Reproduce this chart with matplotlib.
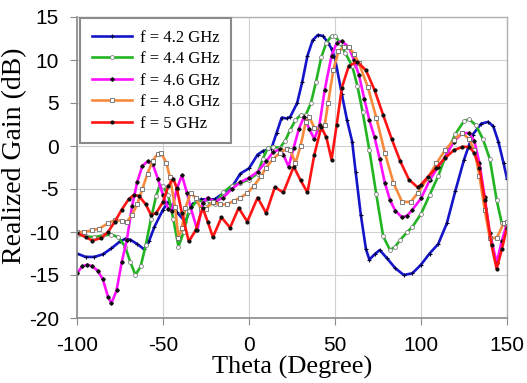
import numpy as np
import matplotlib
matplotlib.use("Agg")
import matplotlib.pyplot as plt

plt.rcParams['axes.unicode_minus'] = False

# Realized gain (dB) vs theta (deg)
theta_42 = [-100, -95, -90, -85, -80, -75, -72, -69, -65, -61, -58, -55, -50, -47, -42, -37, -33, -28,
            -20, -15, -10, -5, 0, 5, 8, 13, 16, 19, 22, 24, 28, 31, 34, 37, 40, 43, 46, 48, 50, 54,
            57, 60, 62, 65, 68, 70, 73, 76, 80, 85, 90, 95, 100, 105, 110, 115, 120, 125, 130, 135,
            139, 142, 145, 148, 150]
gain_42 = [-12.5, -12.9, -12.9, -12.6, -11.9, -11.1, -10.8, -10.9, -11.4, -12.0, -11.0, -9.4, -7.4, -6.5,
           -7.7, -8.8, -6.8, -6.2, -6.2, -5.5, -4.8, -3.2, -2.6, -1.0, -0.6, -0.3, 1.5, 3.3, 3.2, 3.4,
           5.0, 7.5, 10.5, 12.3, 12.9, 12.8, 12.0, 11.3, 10.2, 6.0, 3.0, 0.5, -3.0, -8.0, -12.0, -13.2,
           -12.6, -12.1, -13.0, -14.2, -15.0, -14.8, -13.8, -12.5, -11.4, -9.0, -5.2, -1.6, 1.3, 2.6,
           2.8, 2.3, 0.5, -2.0, -3.8]

theta_44 = [-100, -95, -90, -85, -80, -76, -72, -69, -66, -63, -60, -57, -54, -52, -50, -47, -44, -41,
            -38, -35, -30, -25, -20, -15, -10, -5, 0, 5, 8, 11, 14, 18, 21, 24, 27, 30, 33, 36, 39,
            42, 45, 48, 50, 53, 56, 60, 63, 66, 70, 74, 78, 82, 85, 88, 92, 95, 100, 105, 110, 115,
            120, 125, 128, 132, 136, 140, 144, 147, 150]
gain_44 = [-10.3, -10.5, -10.6, -10.4, -10.3, -10.6, -11.7, -13.5, -15.0, -14.0, -11.5, -8.5, -5.8, -4.6,
           -4.7, -5.7, -8.5, -11.7, -10.0, -7.5, -6.3, -6.6, -6.8, -5.4, -4.6, -4.3, -3.9, -3.2, -1.5,
           -0.2, -0.1, -0.2, 0.6, 1.9, 3.0, 3.6, 3.6, 5.0, 7.5, 10.3, 12.0, 12.8, 12.8, 12.0, 10.8,
           9.3, 7.0, 4.0, -0.5, -5.6, -10.5, -12.1, -11.7, -10.9, -10.0, -9.4, -7.9, -5.7, -3.5, -0.8,
           1.4, 2.9, 3.1, 2.4, 0.8, -1.5, -6.3, -9.0, -9.4]

theta_46 = [-100, -97, -94, -91, -88, -85, -82, -80, -77, -74, -71, -68, -65, -62, -59, -56, -53, -50,
            -47, -45, -42, -39, -36, -34, -30, -27, -24, -20, -15, -10, -5, 0, 5, 10, 14, 18, 20, 23,
            26, 29, 32, 35, 38, 41, 44, 48, 51, 54, 58, 61, 64, 67, 70, 73, 76, 79, 82, 85, 89, 92,
            95, 100, 105, 110, 114, 119, 124, 128, 131, 134, 137, 140, 144, 147, 150]
gain_46 = [-14.8, -14.0, -13.8, -14.0, -14.5, -15.5, -17.5, -18.3, -16.8, -13.5, -10.9, -7.0, -4.2, -2.3,
           -1.8, -2.1, -3.8, -5.7, -7.3, -7.6, -5.0, -3.4, -5.5, -7.1, -9.8, -6.6, -6.0, -6.5, -6.0,
           -5.0, -4.2, -3.7, -3.0, -1.8, -0.7, -0.4, -1.0, -2.4, -0.2, 2.0, 3.4, 2.0, 0.8, 2.5, 6.5,
           10.5, 12.0, 12.2, 11.5, 10.0, 8.2, 5.5, 3.0, 1.0, -1.5, -4.3, -6.3, -7.5, -8.3, -8.1, -7.4,
           -6.1, -4.0, -2.4, -1.3, 0.5, 1.5, 1.5, 0.6, -2.0, -5.9, -10.1, -13.6, -11.0, -9.0]

theta_48 = [-100, -96, -91, -87, -82, -78, -74, -71, -68, -65, -62, -59, -56, -53, -51, -48, -46, -43,
            -41, -39, -37, -34, -31, -28, -25, -21, -17, -13, -9, -5, -1, 3, 7, 10, 14, 18, 22, 24,
            27, 30, 33, 35, 38, 41, 44, 46, 49, 52, 55, 58, 61, 64, 69, 74, 79, 84, 89, 94, 98, 104,
            109, 114, 119, 124, 128, 131, 134, 137, 140, 144, 148, 150]
gain_48 = [-10.0, -10.0, -9.8, -9.6, -9.0, -8.6, -8.7, -8.8, -8.0, -6.8, -5.0, -3.2, -1.7, -0.9, -0.8,
           -2.0, -3.6, -7.1, -10.7, -9.5, -7.2, -5.5, -6.0, -7.3, -7.3, -6.5, -6.8, -6.8, -6.4, -6.0,
           -5.5, -4.6, -3.5, -2.5, -1.5, -0.8, -0.3, -0.5, -2.0, 0.0, 2.8, 3.4, 2.1, 2.0, 2.4, 5.0,
           8.8, 11.0, 11.5, 11.5, 10.7, 9.6, 6.9, 3.3, -0.8, -4.3, -6.5, -6.5, -5.5, -3.7, -2.0, -0.5,
           0.7, 1.5, 0.8, -0.5, -3.5, -7.4, -10.7, -10.7, -9.0, -8.8]

theta_50 = [-100, -95, -91, -86, -82, -78, -74, -70, -67, -64, -60, -57, -54, -50, -47, -44, -42, -39,
            -35, -31, -27, -24, -21, -16, -11, -6, -1, 5, 10, 15, 20, 26, 30, 34, 38, 42, 45, 48, 51,
            54, 58, 63, 68, 73, 78, 83, 88, 93, 98, 100, 104, 109, 114, 119, 124, 128, 131, 134, 137,
            141, 144, 147, 150]
gain_50 = [-10.1, -10.6, -11.0, -10.7, -10.0, -8.8, -7.4, -6.2, -5.7, -5.8, -6.8, -8.0, -7.8, -6.5, -4.7,
           -3.8, -4.9, -7.8, -11.1, -9.8, -7.2, -8.8, -10.6, -8.3, -9.5, -7.2, -8.8, -6.0, -7.8, -4.8,
           -5.4, -2.4, -4.0, -5.4, -1.0, 2.2, 1.0, -1.6, 2.5, 6.8, 9.3, 9.8, 8.8, 6.5, 3.6, 0.8, -1.8,
           -3.9, -4.8, -4.5, -3.6, -2.5, -1.4, -0.5, -0.1, -0.1, -0.8, -2.5, -6.3, -11.5, -14.3, -12.0,
           -9.5]

labels = ["f = 4.2 GHz", "f = 4.4 GHz", "f = 4.6 GHz", "f = 4.8 GHz", "f = 5 GHz"]
x_ticks = [-100, -50, 0, 50, 100, 150]
y_ticks = [-20, -15, -10, -5, 0, 5, 10, 15]

series = [
    (theta_42, gain_42, dict(color='#1414c8', marker='+', ms=3.2, mec='#00003c', mew=0.8)),
    (theta_44, gain_44, dict(color='#22b422', marker='o', ms=2.8, mfc='white', mec='#808080', mew=0.6)),
    (theta_46, gain_46, dict(color='#ff10ff', marker='D', ms=1.8, mfc='#101010', mec='#101010')),
    (theta_48, gain_48, dict(color='#f78a3c', marker='s', ms=3.2, mfc='white', mec='#6a6a6a', mew=0.6)),
    (theta_50, gain_50, dict(color='#ff1414', marker='o', ms=2.0, mfc='#101010', mec='#101010')),
]

fig = plt.figure(figsize=(5.27, 3.83), dpi=100)
ax = fig.add_axes([77 / 527, 1 - 318 / 383, 430 / 527, 301 / 383])

for (th, g, style), lab in zip(series, labels):
    ax.plot(th, g, lw=1.9, label=lab, **style)

ax.set_xlim(-100, 150)
ax.set_ylim(-20, 15)
ax.set_xticks(x_ticks)
ax.set_yticks(y_ticks)
ax.grid(True, color='#d0d0d0', lw=0.8)
ax.set_axisbelow(True)
for side in ['left', 'bottom']:
    ax.spines[side].set_color('#8a8a8a')
    ax.spines[side].set_linewidth(1.2)
for side in ['top', 'right']:
    ax.spines[side].set_color('#b0b0b0')
    ax.spines[side].set_linewidth(1.0)
ax.tick_params(direction='out', length=5, color='#8a8a8a', labelsize=15, pad=8)
for t in ax.get_xticklabels() + ax.get_yticklabels():
    t.set_family('Liberation Sans')

ax.set_xlabel("Theta (Degree)", family='Liberation Serif', fontsize=19)
ax.set_ylabel("Realized Gain (dB)", family='Liberation Serif', fontsize=20)
ax.xaxis.set_label_coords(0.5, -0.125)
ax.yaxis.set_label_coords(-0.115, 0.54)

leg = ax.legend(loc='upper left', bbox_to_anchor=(0.007, 0.997), borderaxespad=0,
                prop={'family': 'Liberation Serif', 'size': 12}, fancybox=False,
                edgecolor='#8a8a8a', handlelength=2.4, handletextpad=0.5,
                labelspacing=0.33, borderpad=0.7, framealpha=1)
leg.get_frame().set_linewidth(1.5)

fig.savefig("out.png", dpi=100)
